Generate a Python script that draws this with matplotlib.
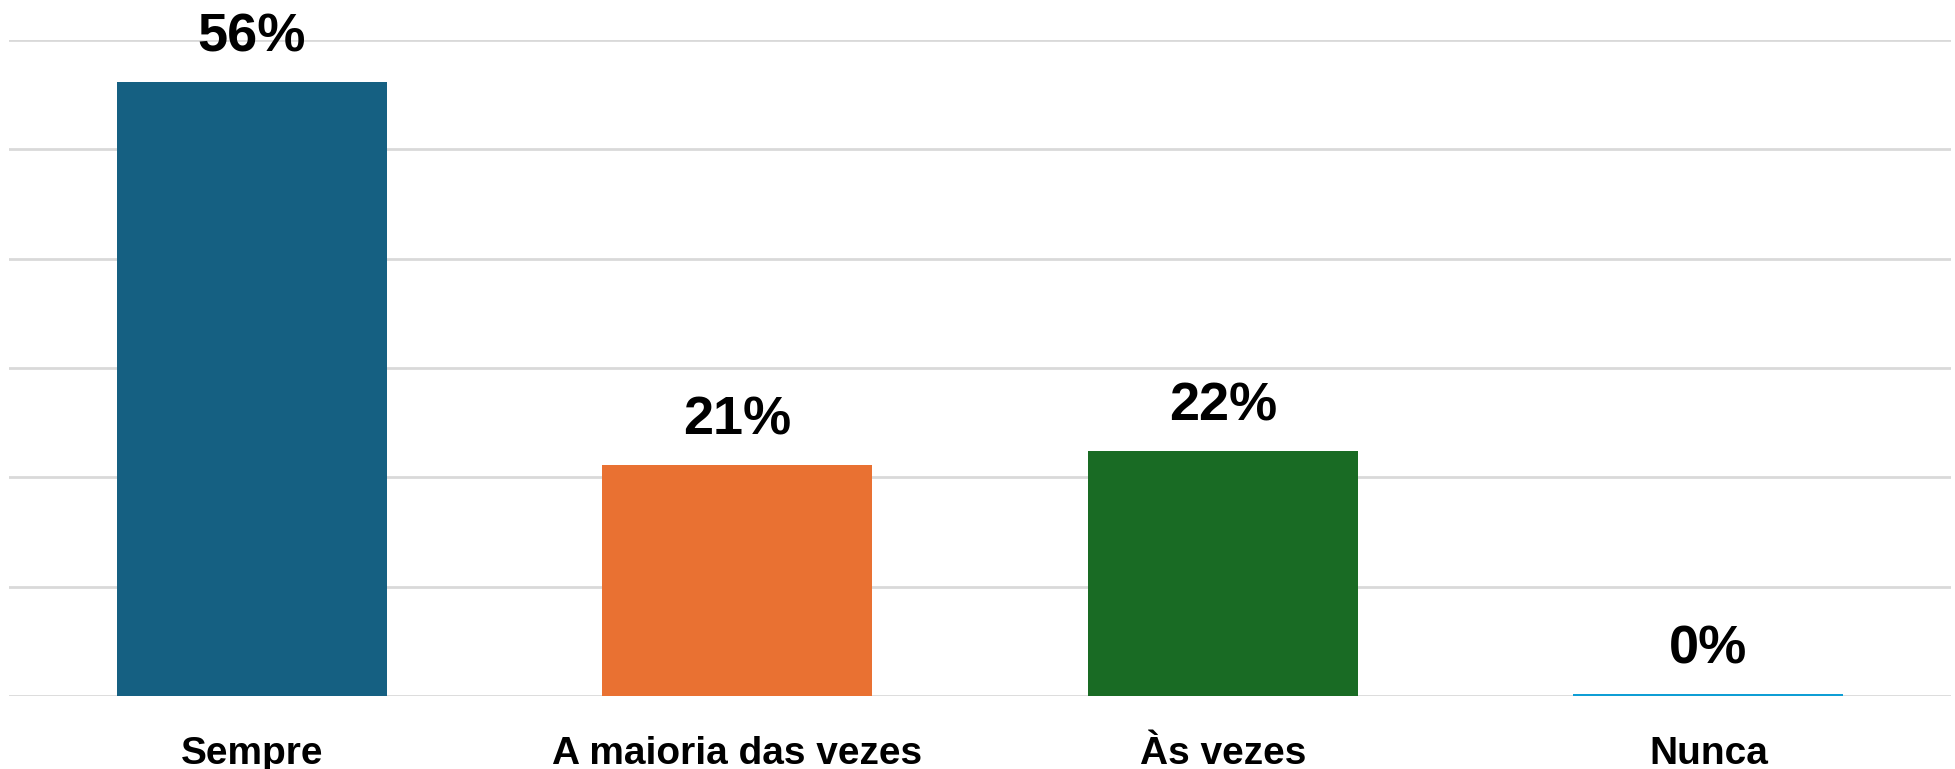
import matplotlib
matplotlib.use('Agg')
import matplotlib.pyplot as plt
from matplotlib import font_manager

categories = ["Sempre", "A maioria das vezes", "Às vezes", "Nunca"]
values = [56.2, 21.1, 22.4, 0.2]
value_labels = ["56%", "21%", "22%", "0%"]
colors = ["#156082", "#E97132", "#196B24", "#0F9ED5"]

names = {f.name for f in font_manager.fontManager.ttflist}
tick_font = "Liberation Sans Narrow" if "Liberation Sans Narrow" in names else "Liberation Sans"

fig = plt.figure(figsize=(19.55, 7.69), dpi=100)
ax = fig.add_axes([0.0046, 0.095, 0.9934, 0.853])

x = range(len(categories))
bars = ax.bar(x, values, width=0.556, color=colors, zorder=3)

ax.set_xlim(-0.5, 3.5)
ax.set_ylim(0, 60)
ax.set_yticks(range(0, 61, 10))
ax.yaxis.grid(True, color="#d9d9d9", linewidth=2, zorder=0)
ax.tick_params(axis="y", left=False, labelleft=False)
ax.tick_params(axis="x", length=0, pad=29)
for s in ax.spines.values():
    s.set_visible(False)

ax.set_xticks(list(x))
ax.set_xticklabels(categories, fontsize=28, fontweight="bold", family=[tick_font, "DejaVu Sans"])

for b, lab in zip(bars, value_labels):
    ax.annotate(lab, (b.get_x() + b.get_width() / 2, b.get_height()),
                xytext=(0, 14), textcoords="offset points", ha="center", va="bottom",
                fontsize=39, fontweight="bold", family="Liberation Sans", clip_on=False)

fig.savefig("out.png", dpi=100)
